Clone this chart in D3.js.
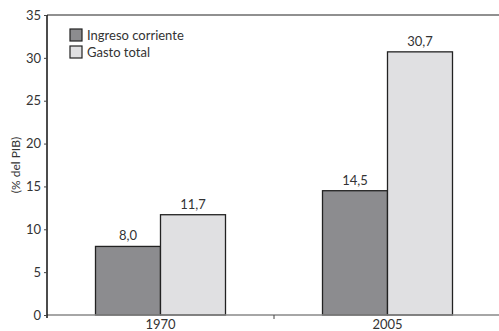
<!DOCTYPE html>
<html>
<head>
<meta charset="utf-8">
<script src="https://cdn.jsdelivr.net/npm/d3@7"></script>
<style>
  html, body { margin: 0; padding: 0; background: #fff; }
  svg { display: block; font-family: "Lato", "Open Sans", sans-serif; }
</style>
</head>
<body>
<svg id="chart" width="499" height="331"></svg>
<script>
// Categories (years) and the two series, % of GDP
const years = ["1970", "2005"];
const seriesNames = ["Ingreso corriente", "Gasto total"];
const ingresoCorriente = [8.0, 14.5];
const gastoTotal = [11.7, 30.7];
const yTicks = [0, 5, 10, 15, 20, 25, 30, 35];
const seriesColors = ["#8c8c8f", "#e0e0e2"];

const series = [ingresoCorriente, gastoTotal];
const rows = years.map((yr, i) => ({ year: yr, values: series.map(s => s[i]) }));

const svg = d3.select("#chart");
const margin = { left: 47, top: 15, bottom: 315, right: 501 };

const x0 = d3.scaleBand().domain(years).range([margin.left, margin.right]).padding(0);
const x1 = d3.scaleBand().domain(d3.range(seriesNames.length)).range([0, 130]);
const y = d3.scaleLinear().domain([0, 35]).range([margin.bottom, margin.top]);

const fmt = v => d3.format(".1f")(v).replace(".", ",");

// Top frame line
svg.append("line")
  .attr("x1", margin.left).attr("x2", 499)
  .attr("y1", y(35)).attr("y2", y(35))
  .attr("stroke", "#222").attr("stroke-width", 1.2);

// Bars
const groups = svg.selectAll("g.grp").data(rows).join("g")
  .attr("class", "grp")
  .attr("transform", d => `translate(${x0(d.year) + (x0.bandwidth() - 130) / 2},0)`);

groups.selectAll("rect").data(d => d.values).join("rect")
  .attr("x", (v, i) => x1(i))
  .attr("width", x1.bandwidth())
  .attr("y", v => y(v))
  .attr("height", v => y(0) - y(v))
  .attr("fill", (v, i) => seriesColors[i])
  .attr("stroke", "#222")
  .attr("stroke-width", 1.3);

groups.selectAll("text.val").data(d => d.values).join("text")
  .attr("class", "val")
  .attr("x", (v, i) => x1(i) + x1.bandwidth() / 2)
  .attr("y", v => y(v) - 6)
  .attr("text-anchor", "middle")
  .attr("font-size", 13)
  .attr("fill", "#333")
  .text(v => fmt(v));

// X axis (grey baseline with a divider tick between categories)
const xAxis = svg.append("g").attr("transform", `translate(0,${y(0)})`);
xAxis.append("line")
  .attr("x1", margin.left).attr("x2", 499)
  .attr("stroke", "#888").attr("stroke-width", 1.5);
xAxis.append("line")
  .attr("x1", x0("2005")).attr("x2", x0("2005"))
  .attr("y1", 0).attr("y2", 4)
  .attr("stroke", "#444").attr("stroke-width", 1);
xAxis.selectAll("text").data(years).join("text")
  .attr("x", d => x0(d) + x0.bandwidth() / 2)
  .attr("y", 14)
  .attr("text-anchor", "middle")
  .attr("font-size", 13)
  .attr("fill", "#333")
  .text(d => d);

// Y axis
const yAxis = svg.append("g").attr("transform", `translate(${margin.left},0)`)
  .call(d3.axisLeft(y).tickValues(yTicks).tickSize(3).tickPadding(3).tickFormat(d3.format("d")));
yAxis.select(".domain").attr("d", `M0,${y(35)}V${y(0) + 3}`).attr("stroke", "#111").attr("stroke-width", 1.5);
yAxis.selectAll(".tick line").attr("stroke", "#444");
yAxis.selectAll(".tick text").attr("font-size", 13).attr("fill", "#333")
  .attr("font-family", "Lato, 'Open Sans', sans-serif");

svg.append("text")
  .attr("transform", `translate(20,${(y(0) + y(35)) / 2}) rotate(-90)`)
  .attr("text-anchor", "middle")
  .attr("font-size", 12)
  .attr("fill", "#333")
  .text("(% del PIB)");

// Legend
const legend = svg.append("g").attr("transform", "translate(70,29)");
const li = legend.selectAll("g").data(seriesNames).join("g")
  .attr("transform", (d, i) => `translate(0,${i * 17})`);
li.append("rect")
  .attr("width", 12).attr("height", 12)
  .attr("fill", (d, i) => seriesColors[i])
  .attr("stroke", "#222").attr("stroke-width", 1.2);
li.append("text")
  .attr("x", 17).attr("y", 10.5)
  .attr("font-size", 13)
  .attr("fill", "#333")
  .text(d => d);
</script>
</body>
</html>
